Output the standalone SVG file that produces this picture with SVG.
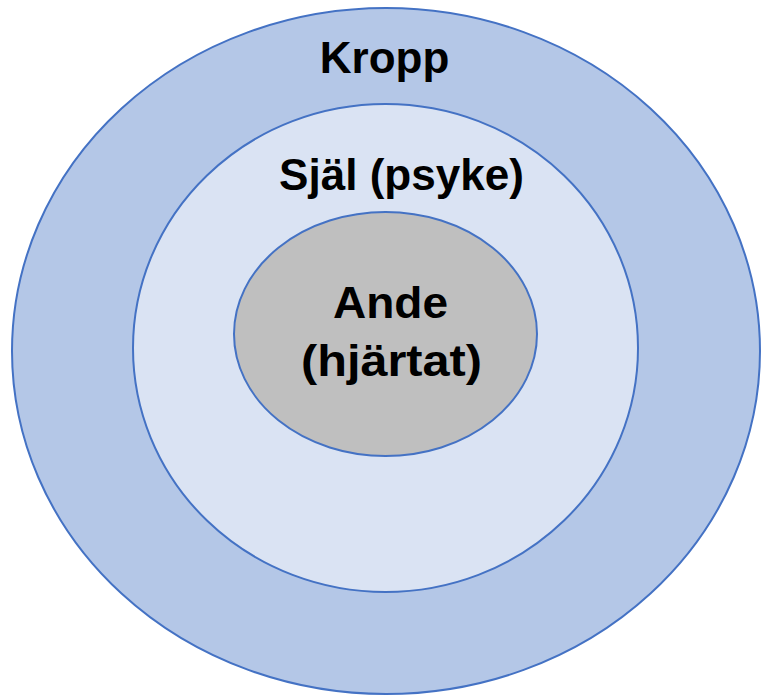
<svg xmlns="http://www.w3.org/2000/svg" width="762" height="697" viewBox="0 0 762 697">
<style>
.e{stroke:#4472C4;stroke-width:2}
.t{font-family:"Liberation Sans",Arial,sans-serif;font-weight:bold;font-size:44px;fill:#000;text-anchor:middle}
</style>
<rect width="762" height="697" fill="#fff"/>
<g id="kropp">
<ellipse class="e" cx="386" cy="351" rx="374" ry="343" fill="#B4C7E7"/>
<text class="t" x="384.5" y="73">Kropp</text>
</g>
<g id="sjal">
<ellipse class="e" cx="385.5" cy="348" rx="252.5" ry="244" fill="#DAE3F3"/>
<text class="t" x="401.5" y="190" textLength="245" lengthAdjust="spacingAndGlyphs">Själ (psyke)</text>
</g>
<g id="ande">
<ellipse class="e" cx="385.5" cy="334" rx="151.5" ry="122" fill="#BFBFBF"/>
<text class="t" x="390.5" y="318" textLength="115" lengthAdjust="spacingAndGlyphs">Ande</text>
<text class="t" x="391.5" y="376" textLength="181" lengthAdjust="spacingAndGlyphs">(hjärtat)</text>
</g>
<g id="connectors"/>
</svg>
